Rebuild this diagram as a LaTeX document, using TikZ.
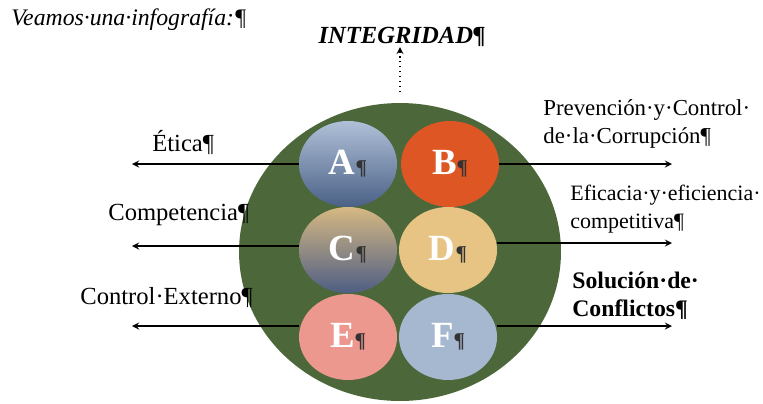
\documentclass[tikz,border=0pt]{standalone}
\usepackage{fontspec}
\setmainfont{Liberation Serif}
\usetikzlibrary{positioning,arrows,shapes}

\definecolor{coregreen}{RGB}{76,104,58}
\definecolor{aTop}{RGB}{176,192,216}
\definecolor{aBot}{RGB}{74,97,134}
\definecolor{bFill}{RGB}{222,86,36}
\definecolor{cTop}{RGB}{214,184,130}
\definecolor{cBot}{RGB}{78,94,132}
\definecolor{dFill}{RGB}{232,196,132}
\definecolor{eFill}{RGB}{236,152,142}
\definecolor{fFill}{RGB}{166,183,208}

\begin{document}
\begin{tikzpicture}[x=0.02cm, y=-0.02cm,
    letter/.style={ellipse, minimum width=1.96cm, minimum height=1.72cm, inner sep=0pt, text=white, font=\fontsize{21}{23}\selectfont\bfseries},
    lbl/.style={align=left, inner sep=0pt, font=\fontsize{14}{16}\selectfont},
    rlbl/.style={lbl, font=\fontsize{13}{16}\selectfont},
    arrow/.style={->, >=stealth, thick}
]
    \useasboundingbox (0,0) rectangle (763,403);

    \node[lbl, anchor=west, font=\fontsize{13.5}{15}\selectfont\itshape] (title) at (11,20) {Veamos·una·infografía:¶};
    \node[lbl, font=\fontsize{14}{15}\selectfont\bfseries\itshape] (integ) at (402,37) {INTEGRIDAD¶};

    \node[ellipse, fill=coregreen, minimum width=6.44cm, minimum height=5.96cm] (core) at (400,252) {};

    \node[letter, top color=aTop, bottom color=aBot] (A) at (348,164) {A\textcolor{black!80}{\fontsize{12}{12}\selectfont ¶}};
    \node[letter, fill=bFill] (B) at (450,164) {B\textcolor{black!80}{\fontsize{12}{12}\selectfont ¶}};
    \node[letter, top color=cTop, bottom color=cBot] (C) at (348,250) {C\textcolor{black!80}{\fontsize{12}{12}\selectfont ¶}};
    \node[letter, fill=dFill] (D) at (448,250) {D\textcolor{black!80}{\fontsize{12}{12}\selectfont ¶}};
    \node[letter, fill=eFill] (E) at (348,337) {E\textcolor{black!80}{\fontsize{12}{12}\selectfont ¶}};
    \node[letter, fill=fFill] (F) at (448,337) {F\textcolor{black!80}{\fontsize{12}{12}\selectfont ¶}};

    % labels
    \node[lbl, anchor=west] (etica) at (152,142) {Ética¶};
    \node[lbl, anchor=west] (compet) at (108,215) {Competencia¶};
    \node[lbl, anchor=west] (control) at (80,298) {Control·Externo¶};
    \node[rlbl, anchor=west] (prev) at (543,124) {Prevención·y·Control·\\de·la·Corrupción¶};
    \node[rlbl, anchor=west, font=\fontsize{12.5}{16}\selectfont] (efic) at (570,209) {Eficacia·y·eficiencia·\\competitiva¶};
    \node[rlbl, anchor=west, font=\fontsize{13.5}{16}\selectfont\bfseries] (soluc) at (572,296) {Solución·de·\\Conflictos¶};

    \coordinate (a-end) at (132,164);
    \coordinate (c-end) at (132,246);
    \coordinate (e-end) at (132,326);
    \coordinate (b-end) at (672,164);
    \coordinate (d-end) at (672,243);
    \coordinate (f-end) at (672,326);
    \coordinate (core-top) at (400,92);

    \draw[arrow] (A.west) -- (a-end);
    \draw[arrow] (C.west |- c-end) -- (c-end);
    \draw[arrow] (E.west |- e-end) -- (e-end);
    \draw[arrow] (B.east) -- (b-end);
    \draw[arrow] (D.east |- d-end) -- (d-end);
    \draw[arrow] (F.east |- f-end) -- (f-end);
    \draw[arrow, dotted] (core-top) -- (integ.south -| core-top);
\end{tikzpicture}
\end{document}
